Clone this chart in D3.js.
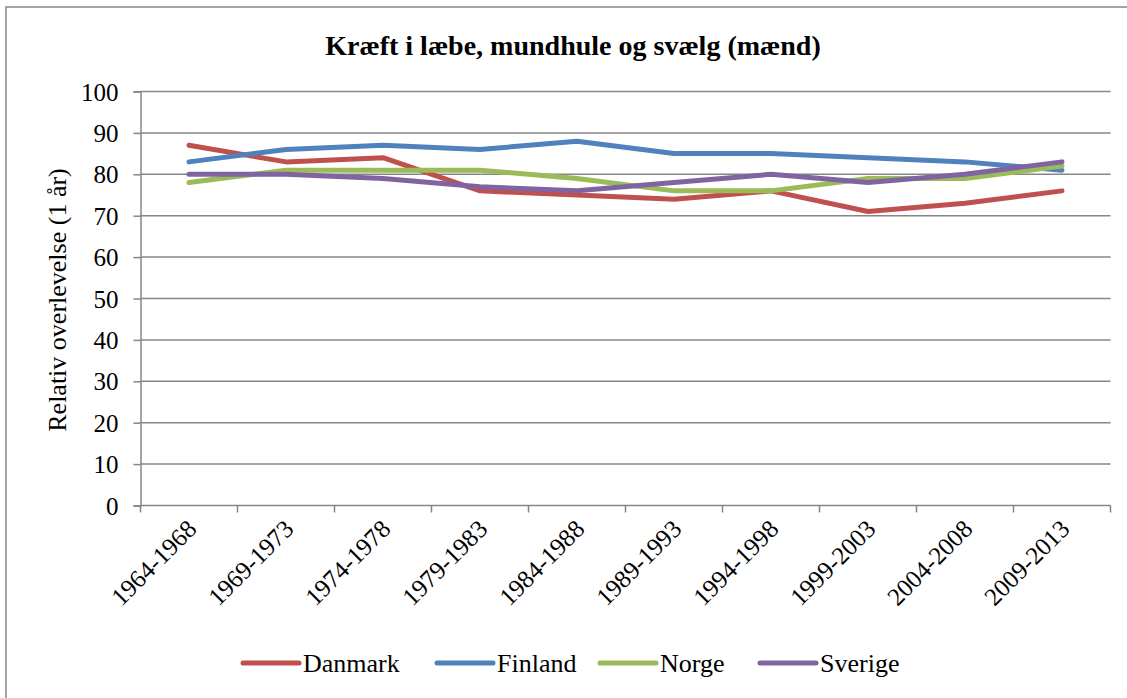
<!DOCTYPE html>
<html><head><meta charset="utf-8">
<script src="https://cdn.jsdelivr.net/npm/d3@7"></script>
<style>body{margin:0;background:#fff;}svg{display:block;font-family:"Liberation Serif","Times New Roman",serif;}</style>
</head><body>
<svg id="c" width="1127" height="698"></svg>
<script>
const categories = ["1964-1968","1969-1973","1974-1978","1979-1983","1984-1988","1989-1993","1994-1998","1999-2003","2004-2008","2009-2013"];
const seriesNames = ["Danmark","Finland","Norge","Sverige"];
const danmark = [87,83,84,76,75,74,76,71,73,76];
const finland = [83,86,87,86,88,85,85,84,83,81];
const norge   = [78,81,81,81,79,76,76,79,79,82];
const sverige = [80,80,79,77,76,78,80,78,80,83];
const yTicks = [0,10,20,30,40,50,60,70,80,90,100];
const title = "Kræft i læbe, mundhule og svælg (mænd)";
const yLabel = "Relativ overlevelse (1 år)";

(function(){
const colors = ["#C0504D","#4F81BD","#9BBB59","#8064A2"];
const series = [danmark, finland, norge, sverige];

const svg = d3.select("#c");
const pL = 140.5, pR = 1110.5, pT = 91.5, pB = 505.5;
const gray = "#868686";

// outer border
svg.append("rect").attr("x",6).attr("y",7).attr("width",1134).attr("height",720)
  .attr("fill","none").attr("stroke",gray).attr("stroke-width",1.5);

const x = d3.scaleBand().domain(categories).range([pL,pR]).paddingInner(0).paddingOuter(0);
const y = d3.scaleLinear().domain([0,100]).range([pB,pT]);

// grid
svg.append("g").selectAll("line").data(yTicks.filter(d=>d>0)).join("line")
  .attr("x1",pL).attr("x2",pR).attr("y1",d=>y(d)).attr("y2",d=>y(d))
  .attr("stroke",gray).attr("stroke-width",1.5);

// y axis
const ya = svg.append("g").attr("transform",`translate(${pL},0)`)
  .call(d3.axisLeft(y).tickValues(yTicks).tickSize(7).tickPadding(15));
ya.select(".domain").attr("stroke",gray).attr("stroke-width",1.5);
ya.selectAll(".tick line").attr("stroke",gray).attr("stroke-width",1.5);
ya.selectAll("text").attr("font-size",25).attr("fill","#000").attr("font-family","Liberation Serif").attr("dy","0.34em");

// x axis
const xa = svg.append("g").attr("transform",`translate(0,${pB})`);
xa.append("line").attr("x1",pL).attr("x2",pR).attr("y1",0).attr("y2",0).attr("stroke",gray).attr("stroke-width",1.5);
const bounds = categories.map(c=>x(c)).concat([pR]);
xa.selectAll("line.tk").data(bounds).join("line").attr("class","tk")
  .attr("x1",d=>d).attr("x2",d=>d).attr("y1",0).attr("y2",7).attr("stroke",gray).attr("stroke-width",1.5);
xa.selectAll("text").data(categories).join("text")
  .attr("transform",d=>`translate(${x(d)+x.bandwidth()/2+9},${25}) rotate(-45)`)
  .attr("text-anchor","end").attr("font-size",25).attr("fill","#000").text(d=>d);

// lines
const line = d3.line().x((d,i)=>x(categories[i])+x.bandwidth()/2).y(d=>y(d));
series.forEach((s,k)=>{
  svg.append("path").datum(s).attr("d",line).attr("fill","none")
    .attr("stroke",colors[k]).attr("stroke-width",5).attr("stroke-linecap","round").attr("stroke-linejoin","round");
});

// title
svg.append("text").attr("x",573).attr("y",55).attr("text-anchor","middle")
  .attr("font-size",28).attr("font-weight","bold").text(title);

// y label
svg.append("text").attr("transform",`translate(66,300) rotate(-90)`).attr("text-anchor","middle")
  .attr("font-size",26).text(yLabel);

// legend
const legX = [243,437,600,760];
const lg = svg.append("g");
seriesNames.forEach((n,k)=>{
  lg.append("line").attr("x1",legX[k]).attr("x2",legX[k]+56).attr("y1",663).attr("y2",663)
    .attr("stroke",colors[k]).attr("stroke-width",5).attr("stroke-linecap","round");
  lg.append("text").attr("x",legX[k]+60).attr("y",672).attr("font-size",26).text(n);
});
})();
</script>
</body></html>
